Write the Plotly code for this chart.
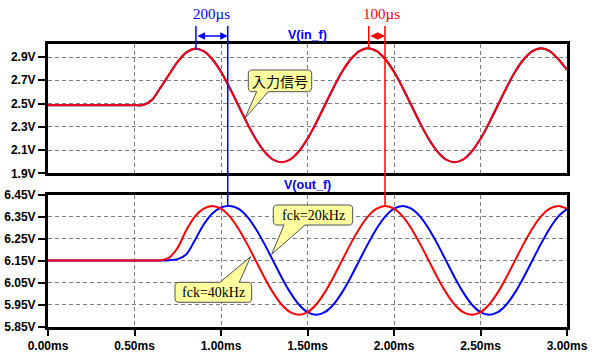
import plotly.graph_objects as go

# ---------------- data ----------------
time_ms = [0.00, 0.05, 0.10, 0.15, 0.20, 0.25, 0.30, 0.35, 0.40, 0.45,
           0.50, 0.55, 0.60, 0.65, 0.70, 0.75, 0.80, 0.85, 0.90, 0.95,
           1.00, 1.05, 1.10, 1.15, 1.20, 1.25, 1.30, 1.35, 1.40, 1.45,
           1.50, 1.55, 1.60, 1.65, 1.70, 1.75, 1.80, 1.85, 1.90, 1.95,
           2.00, 2.05, 2.10, 2.15, 2.20, 2.25, 2.30, 2.35, 2.40, 2.45,
           2.50, 2.55, 2.60, 2.65, 2.70, 2.75, 2.80, 2.85, 2.90, 2.95,
           3.00]

v_in_f = [2.485, 2.485, 2.485, 2.485, 2.485, 2.485, 2.485, 2.485, 2.485, 2.485,
          2.485, 2.487, 2.530, 2.636, 2.750, 2.860, 2.940, 2.972, 2.951, 2.881,
          2.773, 2.636, 2.485, 2.334, 2.197, 2.089, 2.019, 1.995, 2.019, 2.089,
          2.197, 2.334, 2.485, 2.636, 2.773, 2.881, 2.951, 2.975, 2.951, 2.881,
          2.773, 2.636, 2.485, 2.334, 2.197, 2.089, 2.019, 1.995, 2.019, 2.089,
          2.197, 2.334, 2.485, 2.636, 2.773, 2.881, 2.951, 2.975, 2.951, 2.881,
          2.790]

v_out_40k = [6.152, 6.152, 6.152, 6.152, 6.152, 6.152, 6.152, 6.152, 6.152, 6.152,
             6.152, 6.152, 6.152, 6.153, 6.165, 6.210, 6.290, 6.352, 6.387, 6.399,
             6.387, 6.352, 6.297, 6.228, 6.152, 6.076, 6.007, 5.952, 5.917, 5.905,
             5.917, 5.952, 6.007, 6.076, 6.152, 6.228, 6.297, 6.352, 6.387, 6.399,
             6.387, 6.352, 6.297, 6.228, 6.152, 6.076, 6.007, 5.952, 5.917, 5.905,
             5.917, 5.952, 6.007, 6.076, 6.152, 6.228, 6.297, 6.352, 6.387, 6.399,
             6.387]

v_out_20k = [6.152, 6.152, 6.152, 6.152, 6.152, 6.152, 6.152, 6.152, 6.152, 6.152,
             6.152, 6.152, 6.152, 6.152, 6.153, 6.158, 6.180, 6.245, 6.315, 6.365,
             6.392, 6.399, 6.387, 6.352, 6.297, 6.228, 6.152, 6.076, 6.007, 5.952,
             5.917, 5.905, 5.917, 5.952, 6.007, 6.076, 6.152, 6.228, 6.297, 6.352,
             6.387, 6.399, 6.387, 6.352, 6.297, 6.228, 6.152, 6.076, 6.007, 5.952,
             5.917, 5.905, 5.917, 5.952, 6.007, 6.076, 6.152, 6.228, 6.297, 6.352,
             6.385]

x_ticks = [0.0, 0.5, 1.0, 1.5, 2.0, 2.5, 3.0]
x_ticktext = ["0.00ms", "0.50ms", "1.00ms", "1.50ms", "2.00ms", "2.50ms", "3.00ms"]
yin_ticks = [1.9, 2.1, 2.3, 2.5, 2.7, 2.9]
yin_ticktext = ["1.9V", "2.1V", "2.3V", "2.5V", "2.7V", "2.9V"]
yout_ticks = [5.85, 5.95, 6.05, 6.15, 6.25, 6.35, 6.45]
yout_ticktext = ["5.85V", "5.95V", "6.05V", "6.15V", "6.25V", "6.35V", "6.45V"]

# marker positions (ms) for the delay cursors
cursor_in_peak1 = 0.855
cursor_20k_peak = 1.039
cursor_in_peak2 = 1.854
cursor_40k_peak = 1.948

# ---------------- layout helpers ----------------
OFF = 0                      # body margin removed by post_script
W, H = 593, 361
L, R, T, B = 48, 26, 44, 34


def px(x):
    return (x - OFF - L) / (W - L - R)


def py(y):
    return (H - B - (y - OFF)) / (H - T - B)


def pt(x, y):
    return f"{px(x):.5f},{py(y):.5f}"


def callout(x0, y0, x1, y1, ba, bb, tip, side, r=4):
    p = [f"M{pt(x0 + r, y0)}"]
    if side == "top":
        p += [f"L{pt(ba, y0)}", f"L{pt(*tip)}", f"L{pt(bb, y0)}"]
    p += [f"L{pt(x1 - r, y0)}", f"Q{pt(x1, y0)} {pt(x1, y0 + r)}",
          f"L{pt(x1, y1 - r)}", f"Q{pt(x1, y1)} {pt(x1 - r, y1)}"]
    if side == "bottom":
        p += [f"L{pt(bb, y1)}", f"L{pt(*tip)}", f"L{pt(ba, y1)}"]
    p += [f"L{pt(x0 + r, y1)}", f"Q{pt(x0, y1)} {pt(x0, y1 - r)}",
          f"L{pt(x0, y0 + r)}", f"Q{pt(x0, y0)} {pt(x0 + r, y0)}", "Z"]
    return dict(type="path", xref="paper", yref="paper", path=" ".join(p),
                fillcolor="#FFFF9E", line=dict(color="#505050", width=1), layer="above")


RED = "#FF0000"
BLUE = "#0000FF"

fig = go.Figure()
fig.add_trace(go.Scatter(x=time_ms, y=v_in_f, xaxis="x2", yaxis="y2", mode="lines",
                         line=dict(color=BLUE, width=2, shape="spline", smoothing=0.8),
                         showlegend=False, hoverinfo="skip"))
fig.add_trace(go.Scatter(x=time_ms, y=v_in_f, xaxis="x2", yaxis="y2", mode="lines",
                         line=dict(color=RED, width=2, shape="spline", smoothing=0.8),
                         showlegend=False, hoverinfo="skip"))
fig.add_trace(go.Scatter(x=time_ms, y=v_out_20k, xaxis="x", yaxis="y", mode="lines",
                         line=dict(color=BLUE, width=2, shape="spline", smoothing=0.8),
                         showlegend=False, hoverinfo="skip"))
fig.add_trace(go.Scatter(x=time_ms, y=v_out_40k, xaxis="x", yaxis="y", mode="lines",
                         line=dict(color=RED, width=2, shape="spline", smoothing=0.8),
                         showlegend=False, hoverinfo="skip"))

tickfont = dict(family="Liberation Sans, Arial", size=12, color="black", weight="bold")
common = dict(showline=True, mirror=True, linecolor="black", linewidth=3,
              showgrid=True, gridcolor="#808080", gridwidth=1, griddash="4px,3px",
              zeroline=False, tickfont=tickfont, fixedrange=True, automargin=False)

fig.update_layout(
    width=W, height=H, margin=dict(l=L, r=R, t=T, b=B, autoexpand=False),
    paper_bgcolor="white", plot_bgcolor="white", hovermode=False,
    xaxis=dict(domain=[0, 1], anchor="y", range=[0, 3], tickvals=x_ticks, ticktext=x_ticktext,
               ticks="outside", ticklen=6, tickwidth=2, tickcolor="black", **common),
    xaxis2=dict(domain=[0, 1], anchor="y2", range=[0, 3], tickvals=x_ticks, matches="x",
                showticklabels=False, ticks="", **common),
    yaxis=dict(domain=[0, 0.4675], anchor="x", range=[5.85, 6.45], tickvals=yout_ticks,
               ticktext=yout_ticktext, ticks="outside", ticklen=7, tickwidth=2,
               tickcolor="black", **common),
    yaxis2=dict(domain=[0.543, 1], anchor="x2", range=[1.9, 3.012], tickvals=yin_ticks,
                ticktext=yin_ticktext, ticks="outside", ticklen=7, tickwidth=2,
                tickcolor="black", **common),
)

shapes = [
    dict(type="line", xref="x", yref="paper", x0=cursor_in_peak1, x1=cursor_in_peak1,
         y0=py(50), y1=py(26), line=dict(color=BLUE, width=1.5)),
    dict(type="line", xref="x", yref="paper", x0=cursor_20k_peak, x1=cursor_20k_peak,
         y0=py(207), y1=py(26), line=dict(color=BLUE, width=1.5)),
    dict(type="line", xref="x", yref="paper", x0=cursor_in_peak2, x1=cursor_in_peak2,
         y0=py(48), y1=py(26), line=dict(color=RED, width=1.5)),
    dict(type="line", xref="x", yref="paper", x0=cursor_40k_peak, x1=cursor_40k_peak,
         y0=py(205), y1=py(26), line=dict(color=RED, width=1.5)),
    callout(248.3, 70, 311.7, 91.7, 256.7, 268.3, (245, 118), "bottom"),
    callout(273.3, 205, 352.7, 225, 284, 305, (271.7, 254.3), "bottom"),
    callout(175, 282.3, 251.7, 302.3, 220, 239.3, (250.7, 256.7), "top"),
]
fig.update_layout(shapes=shapes)

serif = "Liberation Serif, Times New Roman"
cm = dict(xref="paper", yref="paper", showarrow=False, xanchor="center", yanchor="middle")
ann = [
    dict(x=cursor_20k_peak, ax=cursor_in_peak1, xref="x", axref="x", y=py(36), yref="paper",
         ayref="pixel", ay=0, showarrow=True, arrowside="end+start", arrowhead=2,
         arrowsize=1, arrowwidth=1.5, arrowcolor=BLUE, text=""),
    dict(x=cursor_40k_peak, ax=cursor_in_peak2, xref="x", axref="x", y=py(36), yref="paper",
         ayref="pixel", ay=0, showarrow=True, arrowside="end+start", arrowhead=2,
         arrowsize=1, arrowwidth=1.5, arrowcolor=RED, text=""),
    dict(x=px(211.7), y=py(14), text="200µs",
         font=dict(family=serif, size=15, color=BLUE), **cm),
    dict(x=px(381.7), y=py(14), text="100µs",
         font=dict(family=serif, size=15, color=RED), **cm),
    dict(x=px(307.7), y=py(35), text="V(in_f)",
         font=dict(family="Liberation Sans, Arial", size=12.5, color=BLUE, weight="bold"), **cm),
    dict(x=px(307.7), y=py(185), text="V(out_f)",
         font=dict(family="Liberation Sans, Arial", size=12.5, color=BLUE, weight="bold"), **cm),
    dict(x=px(280), y=py(81), text="入力信号",
         font=dict(family="Noto Sans CJK JP", size=14, color="black"), **cm),
    dict(x=px(313), y=py(215), text="fck=20kHz",
         font=dict(family=serif, size=14, color="black"), **cm),
    dict(x=px(213.3), y=py(292.3), text="fck=40kHz",
         font=dict(family=serif, size=14, color="black"), **cm),
]
fig.update_layout(annotations=ann)

fig.write_html("out.html", config={"displayModeBar": False, "staticPlot": True},
               post_script="document.body.style.margin='0';document.body.style.overflow='hidden';")
